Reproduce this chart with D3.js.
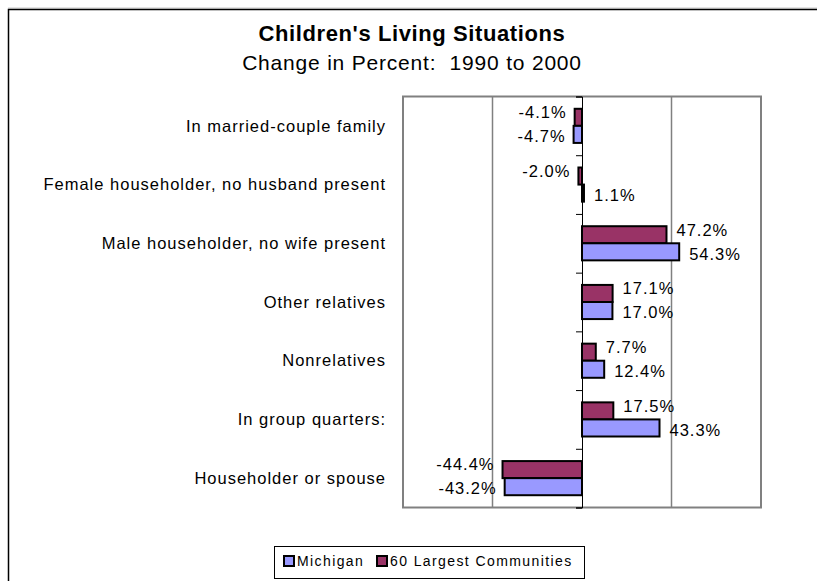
<!DOCTYPE html>
<html>
<head>
<meta charset="utf-8">
<script src="https://cdn.jsdelivr.net/npm/d3@7/dist/d3.min.js"></script>
<style>
html,body{margin:0;padding:0;background:#fff;}
svg{display:block;font-family:"Liberation Sans",Arial,sans-serif;}
</style>
</head>
<body>
<svg id="chart" width="817" height="581"></svg>
<script>
const categories = [
  "In married-couple family",
  "Female householder, no husband present",
  "Male householder, no wife present",
  "Other relatives",
  "Nonrelatives",
  "In group quarters:",
  "Householder or spouse"
];
const michigan = [-4.7, 1.1, 54.3, 17.0, 12.4, 43.3, -43.2];
const largest60 = [-4.1, -2.0, 47.2, 17.1, 7.7, 17.5, -44.4];
const seriesNames = ["60 Largest Communities", "Michigan"];
const legendOrder = ["Michigan", "60 Largest Communities"];
const gridTicks = [-100, -50, 0, 50, 100];
const titleText = "Children's Living Situations";
const subtitleText = "Change in Percent:  1990 to 2000";

const colors = {"Michigan": "#9999FF", "60 Largest Communities": "#993366"};
const labelDy = {"Michigan": 2, "60 Largest Communities": -5};
const fmt = d3.formatLocale({decimal: ".", thousands: ",", grouping: [3], currency: ["", ""], minus: "-"}).format(".1f");

const svg = d3.select("#chart");

// outer frame
svg.append("line").attr("x1", 8).attr("x2", 817).attr("y1", 8).attr("y2", 8).attr("stroke", "#c8c8c8").attr("stroke-width", 1);
svg.append("rect").attr("x", 8.5).attr("y", 9.5).attr("width", 830).attr("height", 600)
  .attr("fill", "none").attr("stroke", "#000").attr("stroke-width", 1.5);

// titles
svg.append("text").attr("x", 412).attr("y", 41).attr("text-anchor", "middle")
  .attr("font-size", 22).attr("font-weight", "bold").attr("letter-spacing", "0.6px").attr("fill", "#000").text(titleText);
svg.append("text").attr("x", 412).attr("y", 70).attr("text-anchor", "middle")
  .attr("font-size", 21).attr("letter-spacing", "0.8px").style("white-space", "pre").attr("fill", "#000").text(subtitleText);

const plot = {left: 403, right: 761, top: 96.5, bottom: 507.5};
const x = d3.scaleLinear().domain([-100, 100]).range([plot.left, plot.right]);
const y = d3.scaleBand().domain(categories).range([plot.top, plot.bottom]);
const ySub = d3.scaleBand().domain(seriesNames).range([0, y.bandwidth()]).paddingInner(0).paddingOuter(0.72);

// gridlines
svg.append("g").selectAll("line").data(gridTicks.filter(t => t !== 0 && t !== -100 && t !== 100)).join("line")
  .attr("x1", d => x(d)).attr("x2", d => x(d)).attr("y1", plot.top).attr("y2", plot.bottom)
  .attr("stroke", "#808080").attr("stroke-width", 1.5);

// plot border
svg.append("rect").attr("x", plot.left).attr("y", plot.top).attr("width", plot.right - plot.left).attr("height", plot.bottom - plot.top)
  .attr("fill", "none").attr("stroke", "#808080").attr("stroke-width", 2);

// bars
const rows = categories.map((c, i) => ({cat: c, vals: [
  {s: "60 Largest Communities", v: largest60[i]},
  {s: "Michigan", v: michigan[i]}
]}));

const groups = svg.append("g").selectAll("g").data(rows).join("g")
  .attr("transform", d => `translate(0,${y(d.cat)})`);

groups.selectAll("rect").data(d => d.vals).join("rect")
  .attr("x", d => x(Math.min(0, d.v)))
  .attr("y", d => ySub(d.s))
  .attr("width", d => Math.abs(x(d.v) - x(0)))
  .attr("height", ySub.bandwidth())
  .attr("fill", d => colors[d.s])
  .attr("stroke", "#000").attr("stroke-width", 2);

groups.selectAll("text").data(d => d.vals).join("text")
  .attr("x", d => d.v >= 0 ? x(d.v) + 10 : x(d.v) - 8)
  .attr("y", d => ySub(d.s) + ySub.bandwidth() / 2 + labelDy[d.s])
  .attr("dy", "0.35em")
  .attr("text-anchor", d => d.v >= 0 ? "start" : "end")
  .attr("font-size", 16.5).attr("letter-spacing", "1px").attr("fill", "#000")
  .text(d => fmt(d.v) + "%");

// zero axis with ticks at band edges
const yAxis = d3.axisLeft(d3.scaleLinear().domain([0, categories.length]).range([plot.top, plot.bottom]))
  .ticks(categories.length).tickSize(6).tickFormat("");
const axG = svg.append("g").attr("transform", `translate(${x(0)},0)`).call(yAxis);
axG.select(".domain").attr("stroke", "#000").attr("stroke-width", 1);
axG.selectAll(".tick line").attr("stroke", "#000").attr("stroke-width", 1);

// category labels
svg.append("g").selectAll("text").data(categories).join("text")
  .attr("x", 386).attr("y", d => y(d) + y.bandwidth() / 2)
  .attr("dy", "0.35em").attr("text-anchor", "end")
  .attr("font-size", 16.5).attr("letter-spacing", "1px").attr("fill", "#000")
  .text(d => d);

// legend
const lg = svg.append("g");
lg.append("rect").attr("x", 274.5).attr("y", 546.5).attr("width", 310).attr("height", 32)
  .attr("fill", "#fff").attr("stroke", "#000").attr("stroke-width", 1);
const legendX = {"Michigan": 284, "60 Largest Communities": 377};
legendOrder.forEach(s => {
  lg.append("rect").attr("x", legendX[s]).attr("y", 556).attr("width", 10).attr("height", 10)
    .attr("fill", colors[s]).attr("stroke", "#000").attr("stroke-width", 2);
  lg.append("text").attr("x", legendX[s] + 13).attr("y", 561).attr("dy", "0.35em")
    .attr("font-size", 14).attr("letter-spacing", "1.4px").attr("fill", "#000").text(s);
});
</script>
</body>
</html>
